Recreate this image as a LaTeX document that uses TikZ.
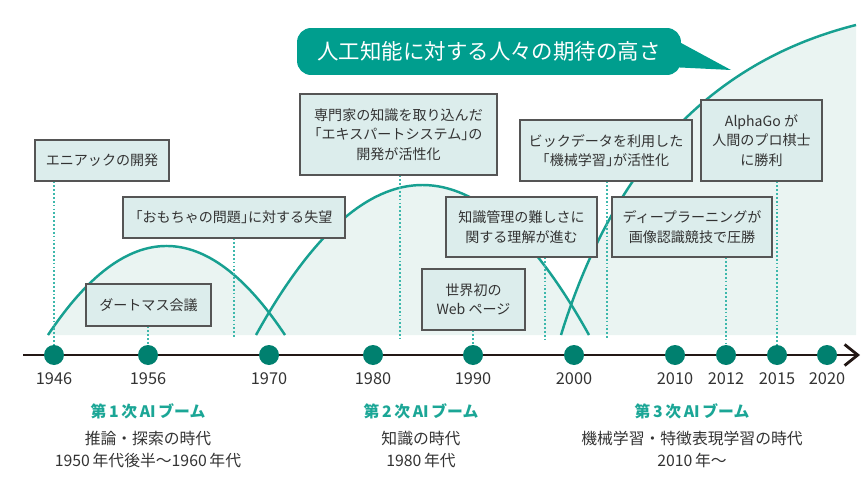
\documentclass[tikz,border=0pt]{standalone}
\usepackage{fontspec}
\setmainfont{Noto Sans CJK JP}
\usetikzlibrary{arrows.meta}

\definecolor{wavec}{HTML}{17A091}
\definecolor{areac}{HTML}{EAF4F2}
\definecolor{bubblec}{HTML}{009E8E}
\definecolor{dotc}{HTML}{00806F}
\definecolor{boxfill}{HTML}{DCEDEC}
\definecolor{boxline}{HTML}{555555}
\definecolor{guidec}{HTML}{3DB8AC}
\definecolor{boomc}{HTML}{1BA696}
\definecolor{axisc}{HTML}{231815}
\definecolor{txt}{HTML}{333333}

% half-width brackets
\newcommand{\hw}[1]{{\addfontfeature{RawFeature=+halt}#1}}

\begin{document}
\begin{tikzpicture}[x=0.02cm, y=-0.02cm]
	% Define styles
	\tikzstyle{event} = [rectangle, draw=boxline, fill=boxfill, line width=0.6pt, align=center, inner sep=0pt, text=txt, font=\fontsize{8}{11}\selectfont]
	\tikzstyle{year} = [circle, fill=dotc, minimum size=0.4cm, inner sep=0pt]
	\tikzstyle{yearlabel} = [text=txt, font=\fontsize{9.3}{11}\selectfont]
	\tikzstyle{boomtitle} = [text=boomc, font=\fontsize{9}{11}\bfseries]
	\tikzstyle{boomtext} = [text=txt, align=center, anchor=north, font=\fontsize{9}{12.6}\selectfont]
	\tikzstyle{wave} = [draw=wavec, line width=1.4pt]
	\tikzstyle{guide} = [draw=guidec, line width=0.8pt, dash pattern=on 1pt off 1.2pt]
	\tikzstyle{bubble} = [rectangle, fill=bubblec, rounded corners=8pt, text=white, minimum width=7.68cm, minimum height=0.94cm, font=\fontsize{12.2}{14}\selectfont]

	\useasboundingbox (0,0) rectangle (868,483);

	% Areas under the waves
	\fill[areac] (48,335) .. controls (127,216.3) and (206,216.3) .. (285,335) -- cycle;
	\fill[areac] (256,335) .. controls (367,135) and (478,135) .. (589,335) -- cycle;
	\fill[areac] (561,335) .. controls (613.9,164.3) and (712.3,61) .. (856,25) -- (856,335) -- cycle;

	% Waves
	\draw[wave] (48,335) .. controls (127,216.3) and (206,216.3) .. (285,335);
	\draw[wave] (256,335) .. controls (367,135) and (478,135) .. (589,335);
	\draw[wave] (561,335) .. controls (613.9,164.3) and (712.3,61) .. (856,25);

	% Axis
	\coordinate (axstart) at (23,355);
	\coordinate (axend) at (860,355);
	\draw[axisc, line width=1.6pt, -{Straight Barb[length=7.5pt, width=12pt]}] (axstart) -- (axend);

	% Events
	\node[event, minimum width=2.68cm, minimum height=0.82cm] (eniac) at (102,160.5) {エニアックの開発};
	\node[event, minimum width=4.44cm, minimum height=0.82cm] (toy) at (234,217.5) {\hw{「}おもちゃの問題\hw{」}に対する失望};
	\node[event, minimum width=2.50cm, minimum height=0.84cm] (dartmouth) at (148.5,305) {ダートマス会議};
	\node[event, minimum width=3.94cm, minimum height=1.62cm] (expert) at (398.5,134.5) {専門家の知識を取り込んだ\\\hw{「}エキスパートシステム\hw{」}の\\開発が活性化};
	\node[event, minimum width=3.02cm, minimum height=1.20cm] (knowledge) at (521.5,227) {知識管理の難しさに\\関する理解が進む};
	\node[event, minimum width=2.06cm, minimum height=1.22cm] (web) at (473.5,299.5) {世界初の\\Web ページ};
	\node[event, minimum width=3.44cm, minimum height=1.22cm] (bigdata) at (606,150.5) {ビックデータを利用した\\\hw{「}機械学習\hw{」}が活性化};
	\node[event, minimum width=3.20cm, minimum height=1.20cm] (deep) at (692,227) {ディープラーニングが\\画像認識競技で圧勝};
	\node[event, minimum width=2.42cm, minimum height=1.62cm] (alphago) at (761.5,140.5) {AlphaGo が\\人間のプロ棋士\\に勝利};

	% Years
	\node[year] (d1946) at (54,355) {};
	\node[year] (d1956) at (148,355) {};
	\node[year] (d1970) at (269,355) {};
	\node[year] (d1980) at (373,355) {};
	\node[year] (d1990) at (473,355) {};
	\node[year] (d2000) at (574,355) {};
	\node[year] (d2010) at (675,355) {};
	\node[year] (d2012) at (726,355) {};
	\node[year] (d2015) at (777,355) {};
	\node[year] (d2020) at (827,355) {};
	\node[yearlabel] (y1946) at (54,379) {1946};
	\node[yearlabel] (y1956) at (148,379) {1956};
	\node[yearlabel] (y1970) at (269,379) {1970};
	\node[yearlabel] (y1980) at (373,379) {1980};
	\node[yearlabel] (y1990) at (473,379) {1990};
	\node[yearlabel] (y2000) at (574,379) {2000};
	\node[yearlabel] (y2010) at (675,379) {2010};
	\node[yearlabel] (y2012) at (726,379) {2012};
	\node[yearlabel] (y2015) at (777,379) {2015};
	\node[yearlabel] (y2020) at (827,379) {2020};

	% Guide lines
	\coordinate (gtoy) at (234,339);
	\coordinate (gexpert) at (400,339);
	\coordinate (gknowledge) at (545,339);
	\coordinate (gbigdata) at (607,339);
	\draw[guide] (d1946 |- eniac.south) -- (d1946);
	\draw[guide] (gtoy |- toy.south) -- (gtoy);
	\draw[guide] (dartmouth.south -| d1956) -- (d1956);
	\draw[guide] (gexpert |- expert.south) -- (gexpert);
	\draw[guide] (gknowledge |- knowledge.south) -- (gknowledge);
	\draw[guide] (web.south -| d1990) -- (d1990);
	\draw[guide] (gbigdata |- bigdata.south) -- (gbigdata);
	\draw[guide] (deep.south -| d2012) -- (d2012);
	\draw[guide] (alphago.south -| d2015) -- (d2015);

	% Expectation bubble
	\node[bubble] (title) at (489,51.5) {人工知能に対する人々の期待の高さ};
	\coordinate (tip) at (731,70);
	\fill[bubblec] (670,37) -- (tip) -- (670,67) -- cycle;

	% Booms
	\node[boomtitle] (boom1) at (148,411) {第\,1\,次\,AI\,ブーム};
	\node[boomtext] (era1) at (boom1.south) {推論・探索の時代\\1950\,年代後半〜1960\,年代};
	\node[boomtitle] (boom2) at (421,411) {第\,2\,次\,AI\,ブーム};
	\node[boomtext] (era2) at (boom2.south) {知識の時代\\1980\,年代};
	\node[boomtitle] (boom3) at (692,411) {第\,3\,次\,AI\,ブーム};
	\node[boomtext] (era3) at (boom3.south) {機械学習・特徴表現学習の時代\\2010\,年〜};
\end{tikzpicture}
\end{document}
